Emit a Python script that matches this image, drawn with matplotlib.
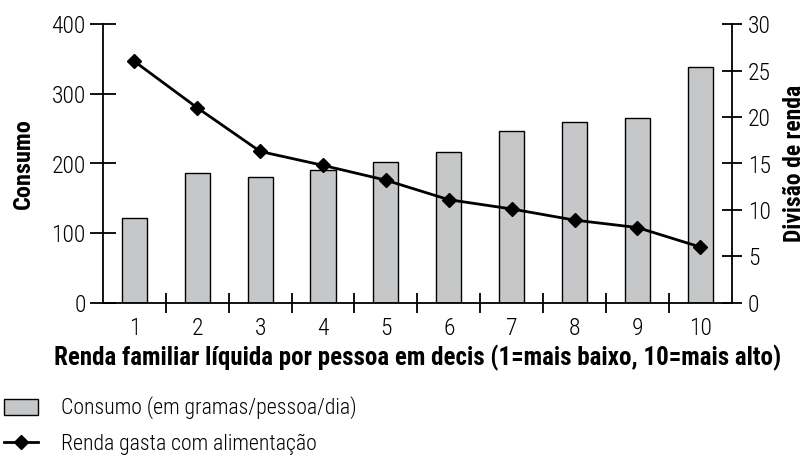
import matplotlib
matplotlib.use("Agg")
import matplotlib.pyplot as plt
from matplotlib.patches import Patch
from matplotlib.lines import Line2D
from matplotlib import font_manager as fm

names = {f.name for f in fm.fontManager.ttflist}
FONT = "DejaVu Sans"
for cand in ["Roboto Condensed", "PT Sans Narrow", "Barlow Semi Condensed", "Liberation Sans Narrow"]:
    if cand in names:
        FONT = cand
        break
plt.rcParams['font.family'] = [FONT, 'DejaVu Sans']

deciles = [1, 2, 3, 4, 5, 6, 7, 8, 9, 10]
consumo = [121, 186, 181, 191, 202, 216, 246, 259, 266, 339]
renda_gasta = [26.0, 21.0, 16.3, 14.8, 13.2, 11.1, 10.1, 8.9, 8.1, 6.0]
y_left_ticks = [0, 100, 200, 300, 400]
y_right_ticks = [0, 5, 10, 15, 20, 25, 30]

W, H = 810, 461
fig = plt.figure(figsize=(W / 100, H / 100), dpi=100)
ax = fig.add_axes([103 / W, (H - 302.7) / H, 628.7 / W, (302.7 - 24.3) / H])
ax2 = ax.twinx()

bar_color = "#c6c7c9"
ax.bar(deciles, consumo, width=0.4, color=bar_color, edgecolor="black", linewidth=1.0, zorder=2)
ax.set_xlim(0.5, 10.5)
ax.set_ylim(0, 400)
ax.set_yticks(y_left_ticks)
ax.set_xticks(deciles)
ax.set_xticks([d + 0.5 for d in deciles[:-1]], minor=True)

ax2.plot(deciles, renda_gasta, color="black", linewidth=2.0, marker="D", markersize=7.5, zorder=3)
ax2.set_ylim(0, 30)
ax2.set_yticks(y_right_ticks)

for a in (ax, ax2):
    a.spines['top'].set_visible(False)
    a.set_facecolor('none')
ax2.spines['left'].set_visible(False)
ax2.spines['bottom'].set_visible(False)
ax.spines['right'].set_visible(False)
for sp in ['left', 'bottom']:
    ax.spines[sp].set_linewidth(1.3)
ax2.spines['right'].set_linewidth(1.3)

ax.tick_params(axis='y', direction='inout', length=19, width=1.3, labelsize=17, pad=3)
ax.tick_params(axis='x', which='major', length=0, labelsize=17, pad=10)
ax.tick_params(axis='x', which='minor', direction='inout', length=14.5, width=1.3)
ax2.tick_params(axis='y', direction='inout', length=15, width=1.3, labelsize=17, pad=4)
for lab in ax.get_xticklabels() + ax.get_yticklabels() + ax2.get_yticklabels():
    lab.set_fontweight('light')

ax.set_ylabel("Consumo", fontsize=17.5, fontweight='bold', labelpad=12)
ax2.set_ylabel("Divisão de renda", fontsize=17, fontweight='bold', labelpad=9)
ax.set_xlabel("Renda familiar líquida por pessoa em decis (1=mais baixo, 10=mais alto)",
              fontsize=18, fontweight='bold', labelpad=4)

handles = [
    Patch(facecolor=bar_color, edgecolor="black", linewidth=1.0, label="Consumo (em gramas/pessoa/dia)"),
    Line2D([], [], color="black", linewidth=2.0, marker="D", markersize=7.5, label="Renda gasta com alimentação"),
]
leg = fig.legend(handles=handles, loc='upper left', bbox_to_anchor=(0.0, (H - 392) / H), frameon=False,
                 prop=dict(size=15.7, weight='light'), handlelength=1.55, handleheight=0.75,
                 handletextpad=1.05, labelspacing=0.65, borderaxespad=0, borderpad=0.2)

fig.savefig("out.png", dpi=100)
